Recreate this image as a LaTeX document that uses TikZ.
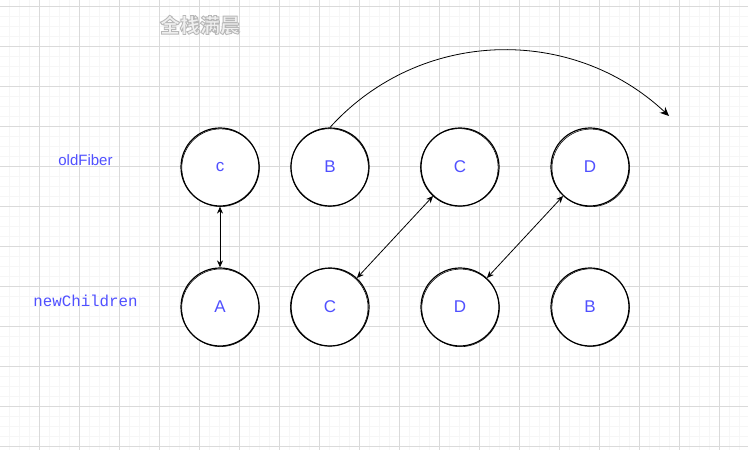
\documentclass[tikz,border=0pt]{standalone}
\usepackage{fontspec}
\setmainfont{Liberation Sans}
\newfontfamily\monof{Liberation Mono}
\newfontfamily\cjkf{Noto Sans CJK SC}
\usetikzlibrary{arrows.meta}
\definecolor{txtblue}{RGB}{80,80,255}
\definecolor{majgrid}{RGB}{218,218,218}
\definecolor{mingrid}{RGB}{246,246,246}
\definecolor{wmfill}{RGB}{240,240,240}
\tikzset{
  minorline/.style={draw=mingrid,line width=0.7pt},
  majorline/.style={draw=majgrid,line width=0.8pt},
  ball/.style={circle,draw=black,line width=1.2pt,fill=white,minimum size=78pt,inner sep=0pt,
    text=txtblue,font=\fontsize{17}{17}\selectfont},
  sketch/.style={draw=black,line width=0.55pt},
  biarrow/.style={draw=black,line width=0.8pt,{Stealth[length=7pt,width=6pt]}-{Stealth[length=7pt,width=6pt]}},
  onearrow/.style={draw=black,line width=0.8pt,-{Stealth[length=9pt,width=8pt]}},
  sidelabel/.style={text=txtblue,inner sep=0pt},
  wmark/.style={inner sep=0pt,font=\cjkf\bfseries\fontsize{20}{20}\selectfont}
}
\newcommand{\outlinetext}[1]{{\color{wmfill}\special{pdf:literal direct 2 Tr 0.9 w 0.72 G}#1\special{pdf:literal direct 0 Tr}}}
\begin{document}
\begin{tikzpicture}[x=1pt,y=-1pt]
\useasboundingbox (0,0) rectangle (748,450);
\fill[white] (0,0) rectangle (748,450);
% grid
\foreach \x in {9.5,19.5,...,748} \draw[minorline] (\x,0) -- (\x,450);
\foreach \y in {6,16,...,450} \draw[minorline] (0,\y) -- (748,\y);
\foreach \x in {39.5,79.5,...,748} \draw[majorline] (\x,0) -- (\x,450);
\foreach \y in {6,46,...,450} \draw[majorline] (0,\y) -- (748,\y);
% watermark title
\node[wmark] (title) at (200,25) {\outlinetext{全栈满晨}};
% side labels
\node[sidelabel,font=\fontsize{15}{15}\selectfont] (lblold) at (85.5,160) {oldFiber};
\node[sidelabel,font=\monof\fontsize{15.8}{15.8}\selectfont] (lblnew) at (85.5,301) {newChildren};
% top row (oldFiber)
\node[ball] (o1) at (220,167) {c};
\node[ball] (o2) at (330,167) {B};
\node[ball] (o3) at (460,167) {C};
\node[ball] (o4) at (590,167) {D};
% bottom row (newChildren)
\node[ball] (n1) at (220,307) {A};
\node[ball] (n2) at (330,307) {C};
\node[ball] (n3) at (460,307) {D};
\node[ball] (n4) at (590,307) {B};
% sketchy second strokes
\foreach \n/\dx/\dy in {o1/0.6/0.7,o2/-0.4/0.5,o3/-0.7/0.4,o4/0.8/0.9,n1/0.5/0.8,n2/-0.8/0.3,n3/0.6/0.9,n4/0.7/0.6}
  \draw[sketch] ([shift={(\dx,\dy)}]\n.center) circle (38.8);
% connectors
\draw[biarrow] (o1) -- (n1);
\draw[biarrow] (n2) -- (o3);
\draw[biarrow] (n3) -- (o4);
\coordinate (moveend) at (669,116);
\draw[onearrow] (o2.north) .. controls (420,28) and (572,25) .. (moveend);
\end{tikzpicture}
\end{document}
